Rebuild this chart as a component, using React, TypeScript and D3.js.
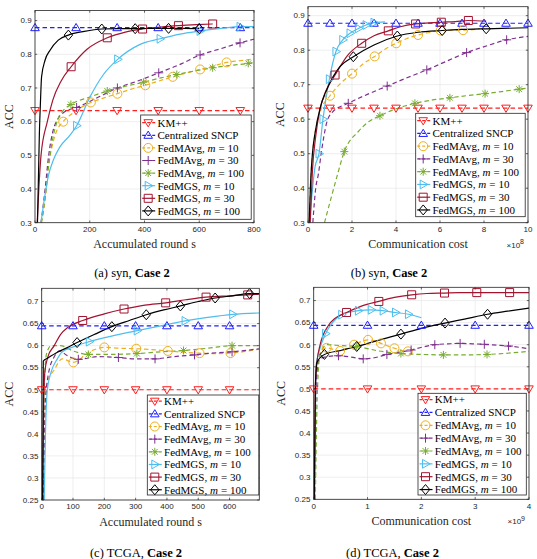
import React from 'react'
import * as d3 from 'd3'

type Pt = [number, number]
type Series = { line: Pt[]; marks: Pt[] }

const SERIES_NAMES = [
  'KM++',
  'Centralized SNCP',
  'FedMAvg, m = 10',
  'FedMAvg, m = 30',
  'FedMAvg, m = 100',
  'FedMGS, m = 10',
  'FedMGS, m = 30',
  'FedMGS, m = 100',
]

// ---------- (a) syn, accumulated rounds ----------
const A_XTICKS = [0, 200, 400, 600, 800]
const A_YTICKS = [0.3, 0.4, 0.5, 0.6, 0.7, 0.8, 0.9]
const A_FLAT_X = [0, 150, 300, 450, 600, 750]
const A_KM = 0.633
const A_SNCP = 0.879
const A_AVG10: Series = {
  line: [[22, 0.3], [37, 0.368], [49, 0.466], [65, 0.535], [78, 0.57], [150, 0.632], [250, 0.67], [350, 0.696], [450, 0.72], [550, 0.744], [650, 0.765], [750, 0.781], [800, 0.786]],
  marks: [[103, 0.6], [204, 0.657], [301, 0.683], [403, 0.708], [503, 0.733], [603, 0.755], [700, 0.776]],
}
const A_AVG30: Series = {
  line: [[22, 0.3], [37, 0.4], [50, 0.5], [65, 0.57], [85, 0.61], [110, 0.63], [220, 0.668], [380, 0.722], [530, 0.77], [680, 0.817], [800, 0.845]],
  marks: [[152, 0.642], [301, 0.7], [452, 0.745], [603, 0.798], [749, 0.834]],
}
const A_AVG100: Series = {
  line: [[24, 0.3], [38, 0.38], [50, 0.47], [65, 0.55], [85, 0.61], [105, 0.635], [200, 0.673], [330, 0.705], [460, 0.73], [580, 0.75], [715, 0.767], [800, 0.776]],
  marks: [[131, 0.651], [264, 0.691], [396, 0.717], [518, 0.74], [649, 0.76], [779, 0.773]],
}
const A_MGS10: Series = {
  line: [[22, 0.3], [36, 0.38], [49, 0.44], [67, 0.486], [91, 0.525], [128, 0.56], [200, 0.672], [250, 0.74], [380, 0.828], [530, 0.86], [680, 0.877], [800, 0.882]],
  marks: [[152, 0.588], [302, 0.785], [457, 0.846], [603, 0.869], [749, 0.882]],
}
const A_MGS30: Series = {
  line: [[8, 0.3], [14, 0.4], [22, 0.5], [45, 0.6], [65, 0.664], [95, 0.72], [190, 0.815], [330, 0.866], [460, 0.881], [590, 0.888]],
  marks: [[132, 0.763], [264, 0.849], [393, 0.875], [524, 0.885], [649, 0.89]],
}
const A_MGS100: Series = {
  line: [[9, 0.3], [13, 0.45], [16, 0.565], [20, 0.66], [24, 0.733], [37, 0.783], [55, 0.812], [85, 0.842], [180, 0.868], [300, 0.876], [430, 0.877], [545, 0.877]],
  marks: [[122, 0.857], [244, 0.875], [366, 0.876], [488, 0.877], [600, 0.876]],
}

// ---------- (b) syn, communication cost (x 1e8) ----------
const B_XTICKS = [0, 2, 4, 6, 8, 10]
const B_YTICKS = [0.3, 0.4, 0.5, 0.6, 0.7, 0.8, 0.9]
const B_FLAT_X = [0, 1, 2, 3, 4, 5, 6, 7, 8, 9, 10]
const B_KM = 0.632
const B_SNCP = 0.878
const B_AVG10: Series = {
  line: [[0.05, 0.3], [0.15, 0.45], [0.3, 0.55], [0.55, 0.62], [1.5, 0.705], [2.5, 0.76], [3.5, 0.803], [4.5, 0.834], [5.5, 0.851], [6.5, 0.858], [7.8, 0.862]],
  marks: [[1.0, 0.668], [2.0, 0.732], [3.03, 0.782], [4.01, 0.82], [5.0, 0.844], [6.03, 0.857], [7.05, 0.858]],
}
const B_AVG30: Series = {
  line: [[0.22, 0.3], [0.35, 0.4], [0.47, 0.44], [0.62, 0.51], [0.85, 0.59], [1.1, 0.62], [2.7, 0.672], [4.5, 0.72], [6.3, 0.768], [8.1, 0.812], [10, 0.84]],
  marks: [[1.83, 0.646], [3.6, 0.696], [5.4, 0.743], [7.21, 0.793], [9.03, 0.83]],
}
const B_AVG100: Series = {
  line: [[0.75, 0.3], [1.0, 0.36], [1.3, 0.43], [2.3, 0.565], [2.7, 0.59], [4.0, 0.63], [5.6, 0.655], [7.2, 0.668], [8.8, 0.68], [10, 0.69]],
  marks: [[1.65, 0.506], [3.27, 0.61], [4.86, 0.646], [6.45, 0.662], [8.05, 0.674], [9.6, 0.687]],
}
const B_MGS10: Series = {
  line: [[0.07, 0.3], [0.32, 0.462], [3.5, 0.882]],
  marks: [[0.5, 0.5], [0.68, 0.6], [0.97, 0.716], [1.27, 0.796], [1.58, 0.83], [1.91, 0.849], [2.29, 0.863], [2.64, 0.873], [3.0, 0.88]],
}
const B_MGS30: Series = {
  line: [[0.1, 0.3], [0.2, 0.45], [0.35, 0.55], [0.55, 0.63], [0.8, 0.68], [1.8, 0.785], [3.0, 0.842], [4.2, 0.868], [5.5, 0.879], [6.7, 0.883], [8.1, 0.884]],
  marks: [[1.23, 0.728], [2.44, 0.82], [3.65, 0.856], [4.89, 0.876], [6.06, 0.881], [7.29, 0.886]],
}
const B_MGS100: Series = {
  line: [[0.05, 0.3], [0.12, 0.42], [0.2, 0.5], [0.32, 0.56], [0.55, 0.632], [0.85, 0.685], [1.45, 0.752], [3.0, 0.815], [5.0, 0.852], [7.0, 0.86], [10, 0.865]],
  marks: [[2.06, 0.781], [4.06, 0.841], [6.1, 0.857], [8.1, 0.862]],
}

// ---------- (c) TCGA, accumulated rounds ----------
const C_XTICKS = [0, 100, 200, 300, 400, 500, 600]
const C_YTICKS = [0.25, 0.3, 0.35, 0.4, 0.45, 0.5, 0.55, 0.6, 0.65, 0.7]
const C_FLAT_X = [0, 100, 200, 300, 400, 500, 600]
const C_KM = 0.5
const C_SNCP = 0.645
const C_AVG10: Series = {
  line: [[5, 0.25], [10, 0.45], [20, 0.52], [40, 0.545], [65, 0.57], [150, 0.585], [250, 0.594], [350, 0.591], [455, 0.585], [555, 0.582], [695, 0.592]],
  marks: [[101, 0.562], [200, 0.596], [302, 0.593], [403, 0.588], [504, 0.583], [603, 0.583]],
}
const C_AVG30: Series = {
  line: [[6, 0.25], [10, 0.45], [20, 0.53], [40, 0.575], [58, 0.588], [80, 0.578], [180, 0.575], [300, 0.57], [420, 0.575], [560, 0.584], [695, 0.593]],
  marks: [[117, 0.569], [245, 0.573], [362, 0.57], [488, 0.579], [608, 0.586]],
}
const C_AVG100: Series = {
  line: [[4, 0.25], [8, 0.5], [15, 0.58], [30, 0.6], [60, 0.6], [100, 0.588], [220, 0.58], [380, 0.586], [530, 0.594], [695, 0.6]],
  marks: [[149, 0.58], [304, 0.582], [453, 0.589], [608, 0.6]],
}
const C_MGS10: Series = {
  line: [[8, 0.25], [12, 0.4], [18, 0.5], [30, 0.54], [50, 0.57], [64, 0.585], [100, 0.597], [220, 0.621], [380, 0.645], [530, 0.664], [695, 0.674]],
  marks: [[152, 0.609], [305, 0.634], [458, 0.656], [610, 0.671]],
}
const C_MGS30: Series = {
  line: [[3, 0.25], [6, 0.45], [10, 0.54], [20, 0.575], [40, 0.6], [60, 0.625], [85, 0.642], [200, 0.672], [330, 0.692], [460, 0.704], [600, 0.713], [695, 0.717]],
  marks: [[131, 0.657], [263, 0.683], [396, 0.697], [525, 0.71], [658, 0.715]],
}
const C_MGS100: Series = {
  line: [[3, 0.25], [5, 0.565], [20, 0.572], [50, 0.585], [80, 0.595], [170, 0.626], [280, 0.657], [390, 0.681], [500, 0.7], [610, 0.713], [695, 0.718]],
  marks: [[113, 0.607], [224, 0.643], [334, 0.67], [443, 0.69], [554, 0.708], [664, 0.718]],
}

// ---------- (d) TCGA, communication cost (x 1e9) ----------
const D_XTICKS = [0, 1, 2, 3, 4]
const D_YTICKS = [0.25, 0.3, 0.35, 0.4, 0.45, 0.5, 0.55, 0.6, 0.65, 0.7]
const D_FLAT_X = [0, 1, 2, 3, 4]
const D_KM = 0.5
const D_SNCP = 0.644
const D_AVG10: Series = {
  line: [[0.01, 0.25], [0.04, 0.5], [0.1, 0.575], [0.62, 0.592], [0.88, 0.607], [1.13, 0.609], [1.38, 0.597], [1.8, 0.585]],
  marks: [[0.24, 0.593], [0.49, 0.586], [0.75, 0.6], [1.01, 0.611], [1.25, 0.603], [1.5, 0.592], [1.75, 0.585]],
}
const D_AVG30: Series = {
  line: [[0.02, 0.25], [0.05, 0.52], [0.1, 0.565], [0.2, 0.572], [0.7, 0.572], [1.15, 0.571], [1.6, 0.583], [2.03, 0.595], [2.5, 0.602], [2.95, 0.602], [3.4, 0.599], [4, 0.591]],
  marks: [[0.46, 0.575], [0.92, 0.568], [1.36, 0.578], [1.81, 0.588], [2.25, 0.6], [2.72, 0.603], [3.17, 0.601], [3.62, 0.597]],
}
const D_AVG100: Series = {
  line: [[0.03, 0.25], [0.07, 0.5], [0.12, 0.58], [0.25, 0.6], [0.5, 0.598], [1.2, 0.586], [2.0, 0.578], [2.8, 0.577], [4, 0.585]],
  marks: [[0.8, 0.596], [1.62, 0.58], [2.41, 0.577], [3.22, 0.578]],
}
const D_MGS10: Series = {
  line: [[0.02, 0.25], [0.04, 0.55], [0.1, 0.585], [0.35, 0.65], [2.0, 0.661]],
  marks: [[0.22, 0.625], [0.52, 0.668], [0.83, 0.677], [1.07, 0.679], [1.29, 0.677], [1.52, 0.673], [1.76, 0.669]],
}
const D_MGS30: Series = {
  line: [[0.01, 0.25], [0.03, 0.5], [0.06, 0.56], [0.12, 0.6], [0.27, 0.643], [0.4, 0.66], [0.9, 0.688], [1.5, 0.707], [2.1, 0.716], [2.7, 0.718], [4, 0.718]],
  marks: [[0.61, 0.673], [1.21, 0.698], [1.82, 0.713], [2.43, 0.717], [3.03, 0.718], [3.64, 0.718]],
}
const D_MGS100: Series = {
  line: [[0.01, 0.25], [0.03, 0.5], [0.06, 0.56], [0.5, 0.587], [1.2, 0.61], [2.0, 0.637], [2.8, 0.658], [3.6, 0.676], [4, 0.683]],
  marks: [[0.2, 0.578], [0.8, 0.596], [1.62, 0.624], [2.44, 0.649], [3.23, 0.669]],
}

// ---------- styles ----------
const STYLES = [
  { color: '#ff1f1f', dash: true, marker: 'down' },
  { color: '#1f1fff', dash: true, marker: 'up' },
  { color: '#EDB120', dash: true, marker: 'circle' },
  { color: '#7E2F8E', dash: true, marker: 'plus' },
  { color: '#77AC30', dash: true, marker: 'star' },
  { color: '#4DBEEE', dash: false, marker: 'right' },
  { color: '#A2142F', dash: false, marker: 'square' },
  { color: '#000000', dash: false, marker: 'diamond' },
]

const flat = (v: number, xs: number[], x0: number, x1: number): Series => ({
  line: [[x0, v], [x1, v]],
  marks: xs.map(x => [x, v] as Pt),
})

function markerPath(kind: string, x: number, y: number) {
  switch (kind) {
    case 'down': return `M${x - 4.3},${y - 3}L${x + 4.3},${y - 3}L${x},${y + 4.2}Z`
    case 'up': return `M${x - 4.3},${y + 3}L${x + 4.3},${y + 3}L${x},${y - 4.2}Z`
    case 'right': return `M${x - 3},${y - 4.4}L${x - 3},${y + 4.4}L${x + 4.6},${y}Z`
    case 'square': return `M${x - 4},${y - 4}h8v8h-8Z`
    case 'diamond': return `M${x},${y - 5}L${x + 4.2},${y}L${x},${y + 5}L${x - 4.2},${y}Z`
    case 'plus': return `M${x - 4.5},${y}H${x + 4.5}M${x},${y - 4.5}V${y + 4.5}`
    case 'star': return `M${x - 4},${y}H${x + 4}M${x},${y - 4}V${y + 4}M${x - 2.9},${y - 2.9}L${x + 2.9},${y + 2.9}M${x - 2.9},${y + 2.9}L${x + 2.9},${y - 2.9}`
    default: return ''
  }
}

function Marker({ kind, x, y, color }: { kind: string; x: number; y: number; color: string }) {
  if (kind === 'circle') return <circle cx={x} cy={y} r={4.5} fill="none" stroke={color} strokeWidth={1} />
  return <path d={markerPath(kind, x, y)} fill="none" stroke={color} strokeWidth={1} />
}

// "m" in italics and math spacing round "=", as LaTeX sets it
function SeriesLabel({ name }: { name: string }) {
  const k = name.indexOf('m = ')
  if (k < 0) return <>{name}</>
  return (
    <>
      {name.slice(0, k)}
      <tspan fontStyle="italic">m</tspan>
      <tspan dx={3}>=</tspan>
      <tspan dx={3}>{name.slice(k + 4)}</tspan>
    </>
  )
}

type PanelCfg = {
  id: string
  left: number; right: number; top: number; bottom: number
  xDomain: [number, number]; yDomain: [number, number]
  xTicks: number[]; yTicks: number[]
  xLabel: string; exp?: string
  tag: string; data: string; capX: number; capY: number
  legend: { x: number; y: number; w: number; h: number; y0: number; step: number }
  ylabX: number
  series: Series[]
}

const PANELS: PanelCfg[] = [
  {
    id: 'a', left: 35, right: 254, top: 10.5, bottom: 222.7,
    xDomain: [0, 800], yDomain: [0.3, 0.93], xTicks: A_XTICKS, yTicks: A_YTICKS,
    xLabel: 'Accumulated round s', tag: '(a)', data: 'syn', capX: 132, capY: 273,
    legend: { x: 140.7, y: 115, w: 110.5, h: 104.3, y0: 122.7, step: 12.6 }, ylabX: 9,
    series: [flat(A_KM, A_FLAT_X, 0, 800), flat(A_SNCP, A_FLAT_X, 0, 800), A_AVG10, A_AVG30, A_AVG100, A_MGS10, A_MGS30, A_MGS100],
  },
  {
    id: 'b', left: 308, right: 528, top: 6.7, bottom: 222.7,
    xDomain: [0, 10], yDomain: [0.3, 0.926], xTicks: B_XTICKS, yTicks: B_YTICKS,
    xLabel: 'Communication cost', exp: '8', tag: '(b)', data: 'syn', capX: 389, capY: 273,
    legend: { x: 415.7, y: 113.3, w: 109.5, h: 103.4, y0: 120.7, step: 12.75 }, ylabX: 280,
    series: [flat(B_KM, B_FLAT_X, 0, 10), flat(B_SNCP, B_FLAT_X, 0, 10), B_AVG10, B_AVG30, B_AVG100, B_MGS10, B_MGS30, B_MGS100],
  },
  {
    id: 'c', left: 41.7, right: 259.3, top: 288.3, bottom: 500,
    xDomain: [0, 695], yDomain: [0.25, 0.73], xTicks: C_XTICKS, yTicks: C_YTICKS,
    xLabel: 'Accumulated round s', tag: '(c)', data: 'TCGA', capX: 136, capY: 553,
    legend: { x: 147.3, y: 395, w: 111.5, h: 100, y0: 401.2, step: 12.65 }, ylabX: 9,
    series: [flat(C_KM, C_FLAT_X, 0, 695), flat(C_SNCP, C_FLAT_X, 0, 695), C_AVG10, C_AVG30, C_AVG100, C_MGS10, C_MGS30, C_MGS100],
  },
  {
    id: 'd', left: 313.7, right: 529, top: 287.3, bottom: 499.3,
    xDomain: [0, 4], yDomain: [0.25, 0.73], xTicks: D_XTICKS, yTicks: D_YTICKS,
    xLabel: 'Communication cost', exp: '9', tag: '(d)', data: 'TCGA', capX: 392.5, capY: 553,
    legend: { x: 418, y: 393.3, w: 108.3, h: 101.7, y0: 399.6, step: 12.85 }, ylabX: 281,
    series: [flat(D_KM, D_FLAT_X, 0, 4), flat(D_SNCP, D_FLAT_X, 0, 4), D_AVG10, D_AVG30, D_AVG100, D_MGS10, D_MGS30, D_MGS100],
  },
]

const SANS = '"Liberation Sans", Arial, sans-serif'
const SERIF = '"Liberation Serif", "Times New Roman", serif'
const AXIS = '#262626'

function Panel({ p }: { p: PanelCfg }) {
  const x = d3.scaleLinear().domain(p.xDomain).range([p.left, p.right])
  const y = d3.scaleLinear().domain(p.yDomain).range([p.bottom, p.top])
  const line = d3.line<Pt>().x(d => x(d[0])).y(d => y(d[1])).curve(d3.curveMonotoneX)
  const fmt = (v: number) => String(+v.toFixed(2))
  const clipId = `clip-${p.id}`
  const cx = (p.left + p.right) / 2
  const cy = (p.top + p.bottom) / 2
  const lg = p.legend

  return (
    <g>
      <defs>
        <clipPath id={clipId}>
          <rect x={p.left} y={p.top} width={p.right - p.left} height={p.bottom - p.top} />
        </clipPath>
      </defs>
      <rect x={p.left} y={p.top} width={p.right - p.left} height={p.bottom - p.top} fill="#fff" />
      {/* grid */}
      {p.xTicks.map(t => (
        <line key={`gx${t}`} x1={x(t)} x2={x(t)} y1={p.top} y2={p.bottom} stroke="#e3e3e3" strokeWidth={0.6} />
      ))}
      {p.yTicks.map(t => (
        <line key={`gy${t}`} x1={p.left} x2={p.right} y1={y(t)} y2={y(t)} stroke="#e3e3e3" strokeWidth={0.6} />
      ))}
      {/* lines */}
      <g clipPath={`url(#${clipId})`}>
        {p.series.map((s, i) => {
          const pts = [...s.line, ...s.marks].sort((a, b) => a[0] - b[0])
          const st = STYLES[i]
          return (
            <path key={i} d={line(pts) || ''} fill="none" stroke={st.color} strokeWidth={1.2}
              strokeDasharray={st.dash ? '4.5,3' : undefined} />
          )
        })}
      </g>
      {/* markers (not clipped, like MATLAB) */}
      {p.series.map((s, i) => s.marks.map((m, j) => (
        <Marker key={`${i}-${j}`} kind={STYLES[i].marker} x={x(m[0])} y={y(m[1])} color={STYLES[i].color} />
      )))}
      {/* box and ticks */}
      <rect x={p.left} y={p.top} width={p.right - p.left} height={p.bottom - p.top} fill="none" stroke={AXIS} strokeWidth={0.8} />
      {p.xTicks.map(t => (
        <g key={`tx${t}`}>
          <line x1={x(t)} x2={x(t)} y1={p.bottom} y2={p.bottom - 2.2} stroke={AXIS} strokeWidth={0.7} />
          <line x1={x(t)} x2={x(t)} y1={p.top} y2={p.top + 2.2} stroke={AXIS} strokeWidth={0.7} />
          <text x={x(t)} y={p.bottom + 6.5} dy="0.35em" textAnchor="middle" fontFamily={SANS} fontSize={8} fill={AXIS}>{t}</text>
        </g>
      ))}
      {p.yTicks.map(t => (
        <g key={`ty${t}`}>
          <line x1={p.left} x2={p.left + 2.2} y1={y(t)} y2={y(t)} stroke={AXIS} strokeWidth={0.7} />
          <line x1={p.right} x2={p.right - 2.2} y1={y(t)} y2={y(t)} stroke={AXIS} strokeWidth={0.7} />
          <text x={p.left - 3.3} y={y(t)} dy="0.35em" textAnchor="end" fontFamily={SANS} fontSize={8} fill={AXIS}>{fmt(t)}</text>
        </g>
      ))}
      {p.exp && (
        <text x={p.right - 4} y={p.bottom + 25} textAnchor="end" fontFamily={SANS} fontSize={8} fill={AXIS}>
          ×10<tspan dy={-3.5} fontSize={7}>{p.exp}</tspan>
        </text>
      )}
      {/* axis labels */}
      <text x={cx} y={p.bottom + 21.5} dy="0.35em" textAnchor="middle" fontFamily={SERIF} fontSize={12} fill={AXIS}>{p.xLabel}</text>
      <text transform={`translate(${p.ylabX},${cy}) rotate(-90)`} dy="0.35em" textAnchor="middle" fontFamily={SERIF} fontSize={12} fill={AXIS}>ACC</text>
      {/* legend */}
      <rect x={lg.x} y={lg.y} width={lg.w} height={lg.h} fill="#fff" stroke={AXIS} strokeWidth={0.8} />
      {SERIES_NAMES.map((name, i) => {
        const ry = lg.y0 + i * lg.step
        const st = STYLES[i]
        return (
          <g key={name}>
            <line x1={lg.x + 1.5} x2={lg.x + 14.5} y1={ry} y2={ry} stroke={st.color} strokeWidth={1.2}
              strokeDasharray={st.dash ? '3,2' : undefined} />
            <Marker kind={st.marker} x={lg.x + 7.5} y={ry} color={st.color} />
            <text x={lg.x + 16.8} y={ry} dy="0.35em" fontFamily={SERIF} fontSize={11} fill="#000">
              <SeriesLabel name={name} />
            </text>
          </g>
        )
      })}
      {/* caption */}
      <text x={p.capX} y={p.capY} dy="0.35em" textAnchor="middle" fontFamily={SERIF} fontSize={12.5} fill="#000">
        {p.tag} {p.data}, <tspan fontWeight="bold">Case 2</tspan>
      </text>
    </g>
  )
}

export default function App() {
  return (
    <div style={{ position: 'absolute', left: 0, top: 0 }}>
      <svg width={537} height={559} style={{ display: 'block', background: '#fff' }}>
        {PANELS.map(p => <Panel key={p.id} p={p} />)}
      </svg>
    </div>
  )
}
